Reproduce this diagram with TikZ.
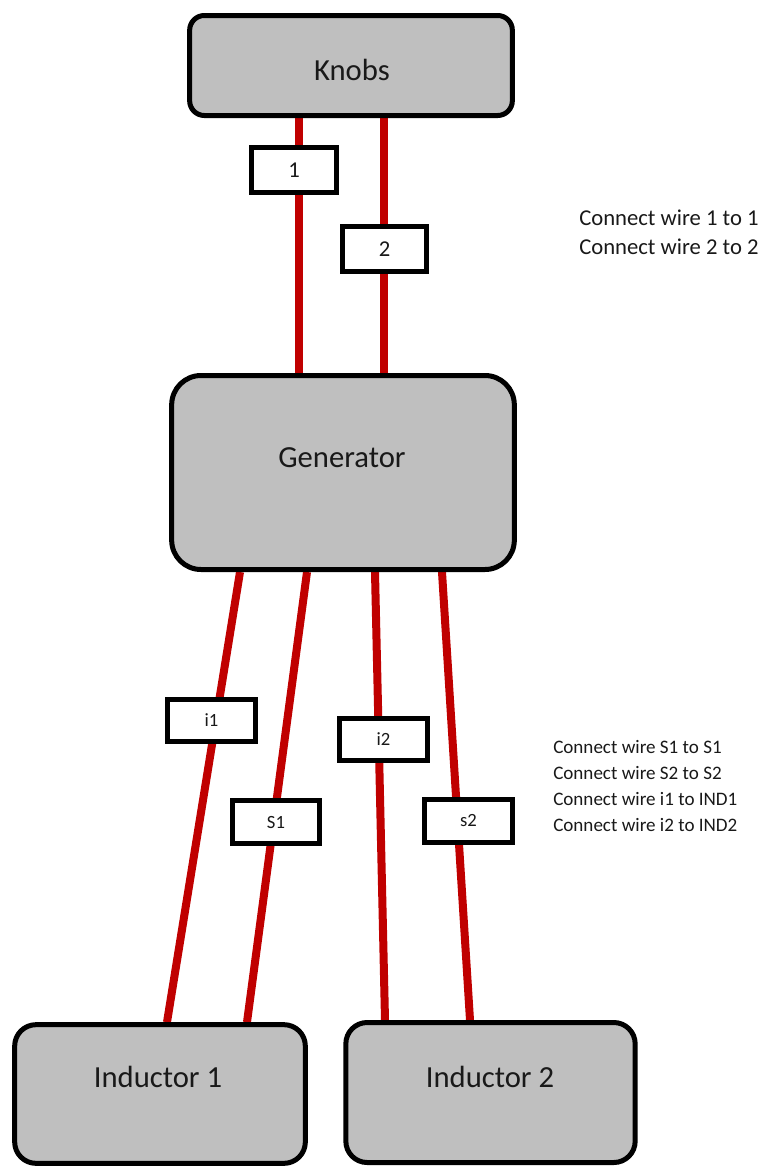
\documentclass[tikz,border=0pt]{standalone}
\usepackage{fontspec}
\setmainfont{Carlito}
\usetikzlibrary{backgrounds}
\definecolor{wirered}{RGB}{192,0,0}
\definecolor{boxgray}{RGB}{191,191,191}
\definecolor{txt}{RGB}{25,25,25}
\begin{document}
\begin{tikzpicture}[x=0.75pt,y=-0.75pt,
  mainbox/.style={draw=black,fill=boxgray,line width=3.75pt,inner sep=0pt},
  tagbox/.style={draw=black,fill=white,line width=3.6pt,inner sep=0pt,text=txt,font=\fontsize{14}{16}\selectfont},
  bigtxt/.style={text=txt,font=\fontsize{23}{26}\selectfont,inner sep=0pt},
  wire/.style={draw=wirered,line width=6pt},
  note/.style={text=txt,align=left,inner sep=0pt}
]
\useasboundingbox (0,0) rectangle (765,1171);
% main boxes
\node[mainbox,rounded corners=11pt,minimum width=242pt,minimum height=75pt] (knobs) at (351,65.5) {};
\node[bigtxt] (knobst) at (352,70) {Knobs};
\node[mainbox,rounded corners=22pt,minimum width=257pt,minimum height=145.5pt] (gen) at (343,472.5) {};
\node[bigtxt] (gent) at (342,458) {Generator};
\node[mainbox,rounded corners=16pt,minimum width=218pt,minimum height=104pt] (ind1) at (160,1094) {};
\node[bigtxt] (ind1t) at (158,1077) {Inductor 1};
\node[mainbox,rounded corners=16pt,minimum width=217pt,minimum height=105pt] (ind2) at (490.5,1092.5) {};
\node[bigtxt] (ind2t) at (490,1077) {Inductor 2};
% wire x positions
\coordinate (k1) at (299,0);
\coordinate (k2) at (384,0);
\coordinate (g1) at (240,0);
\coordinate (g2) at (307,0);
\coordinate (g3) at (375,0);
\coordinate (g4) at (442,0);
\coordinate (n1) at (167,0);
\coordinate (n2) at (247,0);
\coordinate (n3) at (385,0);
\coordinate (n4) at (470,0);
\begin{pgfonlayer}{background}
\draw[wire] (knobs.south -| k1) -- (gen.north -| k1);
\draw[wire] (knobs.south -| k2) -- (gen.north -| k2);
\draw[wire] (gen.south -| g1) -- (ind1.north -| n1);
\draw[wire] (gen.south -| g2) -- (ind1.north -| n2);
\draw[wire] (gen.south -| g3) -- (ind2.north -| n3);
\draw[wire] (gen.south -| g4) -- (ind2.north -| n4);
\end{pgfonlayer}
% tag boxes
\node[tagbox,font=\fontsize{17}{19}\selectfont,minimum width=64pt,minimum height=34pt] (t1) at (294,170) {1};
\node[tagbox,font=\fontsize{17}{19}\selectfont,minimum width=63pt,minimum height=34pt] (t2) at (384.5,249) {2};
\node[tagbox,minimum width=66pt,minimum height=32pt] (ti1) at (211.5,720.5) {i1};
\node[tagbox,minimum width=65pt,minimum height=32.5pt] (ts1) at (276,822) {S1};
\node[tagbox,minimum width=66pt,minimum height=32pt] (ti2) at (383.5,739.5) {i2};
\node[tagbox,minimum width=66pt,minimum height=32.5pt] (ts2) at (468.5,821) {s2};
% notes
\node[note,anchor=west,font=\fontsize{17}{21.75}\selectfont] (note1) at (579,232.5) {Connect wire 1 to 1\\Connect wire 2 to 2};
\node[note,anchor=west,font=\fontsize{14.3}{19.5}\selectfont] (note2) at (553,786) {Connect wire S1 to S1\\Connect wire S2 to S2\\Connect wire i1 to IND1\\Connect wire i2 to IND2};
\end{tikzpicture}
\end{document}
